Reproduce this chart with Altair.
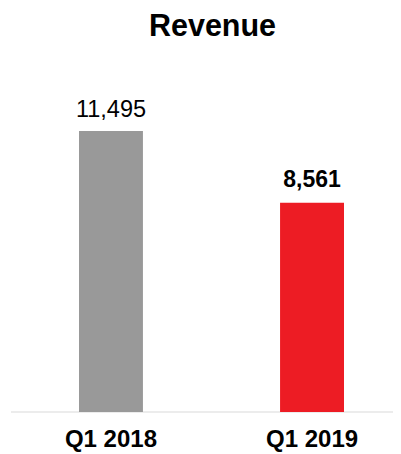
import altair as alt
import pandas as pd

quarters = ["Q1 2018", "Q1 2019"]
revenue = [11495, 8561]
bar_colors = ["#999999", "#ED1C24"]
chart_title = ["Revenue"]

df = pd.DataFrame({"quarter": quarters, "revenue": revenue})

FONT = "Liberation Sans"
YMAX = 14727
PLOT_W = 382

x_enc = alt.X(
    "quarter:N",
    sort=quarters,
    title=None,
    scale=alt.Scale(range=[68, 333], paddingInner=0.682, paddingOuter=0),
    axis=alt.Axis(
        labelAngle=0, ticks=False, domain=False, grid=False,
        labelFont=FONT, labelFontSize=24, labelFontWeight="bold",
        labelColor="#000000", labelBaseline="alphabetic", labelPadding=34,
    ),
)
y_enc = alt.Y(
    "revenue:Q",
    scale=alt.Scale(domain=[0, YMAX], nice=False, zero=True),
    axis=None,
)

bars = alt.Chart(df).mark_bar().encode(
    x=x_enc,
    y=y_enc,
    color=alt.Color("quarter:N", scale=alt.Scale(domain=quarters, range=bar_colors), legend=None),
)

label_2018 = alt.Chart(df).transform_filter(alt.datum.quarter == quarters[0]).mark_text(
    font=FONT, fontSize=23.5, fontWeight="normal", color="#000000",
    baseline="alphabetic", dy=-14,
).encode(x=x_enc, y=y_enc, text=alt.Text("revenue:Q", format=",.0f"))

label_2019 = alt.Chart(df).transform_filter(alt.datum.quarter == quarters[1]).mark_text(
    font=FONT, fontSize=23, fontWeight="bold", color="#000000",
    baseline="alphabetic", dy=-16,
).encode(x=x_enc, y=y_enc, text=alt.Text("revenue:Q", format=",.0f"))

baseline = alt.Chart(pd.DataFrame({"v": [0]})).mark_rule(color="#d9d9d9", strokeWidth=1.2).encode(
    y=alt.Y("v:Q", scale=alt.Scale(domain=[0, YMAX], nice=False), axis=None),
    x=alt.value(0),
    x2=alt.value(PLOT_W),
)

title_text = alt.Chart(pd.DataFrame({"t": chart_title})).mark_text(
    font=FONT, fontSize=30.5, fontWeight="bold", color="#000000",
    baseline="alphabetic", align="center",
).encode(text="t:N", x=alt.value(201.5), y=alt.value(-16))

chart = alt.layer(baseline, bars, label_2018, label_2019, title_text).properties(
    width=PLOT_W,
    height=360,
    padding={"left": 3, "top": 44, "right": 0, "bottom": 42},
    autosize=alt.AutoSizeParams(type="none"),
).configure(background="#ffffff", view=alt.ViewConfig(stroke=None))

chart.save("out.html", embed_options={"renderer": "svg", "actions": False})
